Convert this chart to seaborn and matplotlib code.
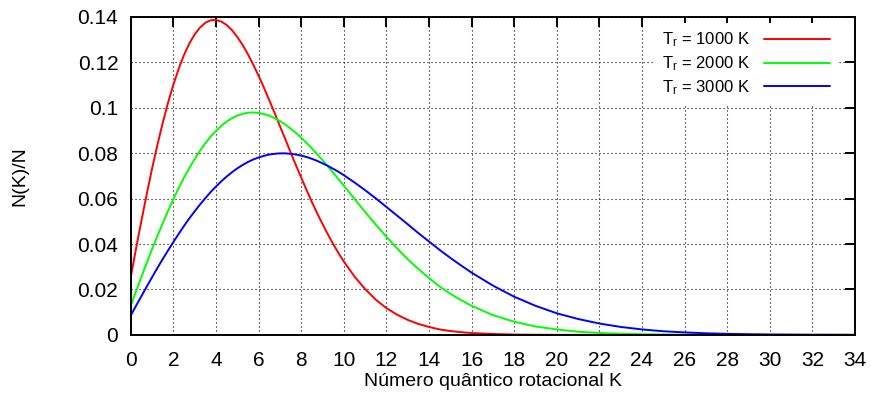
import matplotlib
matplotlib.use("Agg")
import matplotlib.pyplot as plt
import seaborn as sns
import pandas as pd
from matplotlib.ticker import FuncFormatter, MultipleLocator

# Rotational quantum number K (sampled positions)
K = [0, 0.25, 0.5, 0.75, 1, 1.25, 1.5, 1.75, 2, 2.25, 2.5, 2.75, 3, 3.25, 3.5, 3.75,
     4, 4.25, 4.5, 4.75, 5, 5.25, 5.5, 5.75, 6, 6.25, 6.5, 6.75, 7, 7.25, 7.5, 7.75,
     8, 8.25, 8.5, 8.75, 9, 9.25, 9.5, 9.75, 10,
     10.5, 11, 11.5, 12, 12.5, 13, 13.5, 14, 14.5, 15, 15.5, 16,
     17, 18, 19, 20, 21, 22, 23, 24, 25, 26, 27, 28, 29, 30, 31, 32, 33, 34]

# N(K)/N
t1000 = [0.0257, 0.0382, 0.0504, 0.0621, 0.0733, 0.0837, 0.0934, 0.1023, 0.1102,
         0.1172, 0.1233, 0.1283, 0.1323, 0.1353, 0.1374, 0.1385, 0.1386, 0.1379,
         0.1364, 0.1341, 0.1311, 0.1276, 0.1235, 0.1189, 0.1140, 0.1088, 0.1033,
         0.0977, 0.0919, 0.0862, 0.0804, 0.0747, 0.0692, 0.0638, 0.0585, 0.0535,
         0.0488, 0.0443, 0.0400, 0.0360, 0.0323,
         0.0257, 0.0202, 0.0155, 0.0118, 0.0089, 0.0066, 0.0048, 0.0035, 0.0024,
         0.0017, 0.0012, 0.0008,
         0.0004, 0.00015, 0.00006, 0.00002, 0.00001, 0, 0, 0, 0, 0, 0, 0, 0, 0, 0, 0, 0, 0]
t2000 = [0.0129, 0.0193, 0.0256, 0.0318, 0.0378, 0.0436, 0.0492, 0.0546, 0.0598,
         0.0647, 0.0693, 0.0735, 0.0775, 0.0811, 0.0844, 0.0873, 0.0898, 0.0920,
         0.0939, 0.0954, 0.0965, 0.0973, 0.0978, 0.0979, 0.0977, 0.0972, 0.0965,
         0.0954, 0.0941, 0.0926, 0.0908, 0.0889, 0.0868, 0.0845, 0.0821, 0.0795,
         0.0769, 0.0742, 0.0714, 0.0685, 0.0657,
         0.0599, 0.0541, 0.0485, 0.0432, 0.0381, 0.0333, 0.0290, 0.0250, 0.0213,
         0.0181, 0.0153, 0.0128,
         0.0087, 0.0058, 0.0037, 0.0024, 0.0014, 0.00085, 0.0005, 0.00028, 0.00015,
         0.00008, 0.00004, 0.00002, 0.00001, 0, 0, 0, 0, 0]
t3000 = [0.0086, 0.0129, 0.0171, 0.0213, 0.0254, 0.0295, 0.0334, 0.0372, 0.0409,
         0.0445, 0.0480, 0.0513, 0.0544, 0.0574, 0.0602, 0.0629, 0.0653, 0.0676,
         0.0697, 0.0716, 0.0733, 0.0748, 0.0761, 0.0772, 0.0781, 0.0788, 0.0794,
         0.0797, 0.0799, 0.0799, 0.0797, 0.0794, 0.0789, 0.0783, 0.0775, 0.0766,
         0.0755, 0.0744, 0.0731, 0.0718, 0.0703,
         0.0671, 0.0637, 0.0601, 0.0563, 0.0525, 0.0487, 0.0448, 0.0411, 0.0374,
         0.0339, 0.0306, 0.0274,
         0.0217, 0.0168, 0.0128, 0.0095, 0.0070, 0.0050, 0.0035, 0.0024, 0.0016,
         0.0011, 0.0007, 0.00046, 0.00029, 0.00018, 0.00011, 0.00006, 0.00004, 0.00002]

labels = [r"T$_\mathrm{r}$ = 1000 K", r"T$_\mathrm{r}$ = 2000 K", r"T$_\mathrm{r}$ = 3000 K"]
colors = ["#ff0000", "#00ff00", "#0000ff"]

df = pd.concat([
    pd.DataFrame({"K": K, "N": vals, "serie": lab})
    for vals, lab in zip([t1000, t2000, t3000], labels)
], ignore_index=True)

sns.set_theme(style="white")
plt.rcParams["font.family"] = ["Liberation Sans", "DejaVu Sans"]
plt.rcParams["mathtext.fontset"] = "custom"
plt.rcParams["mathtext.rm"] = "Liberation Sans"
plt.rcParams["mathtext.it"] = "Liberation Sans:italic"

fig = plt.figure(figsize=(8.71, 4.08), dpi=100)
fig.patch.set_facecolor("white")
ax = fig.add_axes([0.1502, 0.1792, 0.9816 - 0.1502, 0.9588 - 0.1792])
ax.set_facecolor("white")

sns.lineplot(data=df, x="K", y="N", hue="serie", hue_order=labels,
             palette=dict(zip(labels, colors)), errorbar=None, sort=False,
             linewidth=1.4, legend=False, ax=ax)

ax.set_xlim(0, 34)
ax.set_ylim(0, 0.14)
ax.xaxis.set_major_locator(MultipleLocator(2))
ax.yaxis.set_major_locator(MultipleLocator(0.02))
fmt = FuncFormatter(lambda v, p: f"{round(v, 4):g}")
ax.xaxis.set_major_formatter(fmt)
ax.yaxis.set_major_formatter(fmt)

ax.set_axisbelow(True)
ax.grid(True, color="black", linestyle=(0, (1, 2.6)), linewidth=0.8)
for s in ax.spines.values():
    s.set_visible(True)
    s.set_color("black")
    s.set_linewidth(1.4)
ax.tick_params(direction="in", length=7, width=1.4, top=True, right=True,
               labelsize=15, pad=9, colors="black")
ax.tick_params(axis="x", pad=11.5)

ax.set_xlabel("Número quântico rotacional K", fontsize=14, color="black")
ax.set_ylabel("N(K)/N", fontsize=14, color="black")
ax.xaxis.set_label_coords(0.5, -0.145)
ax.yaxis.set_label_coords(-0.153, 0.5)
ax.xaxis.label.set_va("center")
ax.yaxis.label.set_va("center")

leg = ax.legend(ax.get_lines()[:3], labels, loc="upper right",
                bbox_to_anchor=(0.9765, 0.98), borderaxespad=0,
                frameon=True, fancybox=False, edgecolor="none", facecolor="white",
                framealpha=1, markerfirst=False, handlelength=4.0,
                handletextpad=0.85, borderpad=0.45, labelspacing=0.3, fontsize=12)
for t in leg.get_texts():
    t.set_color("black")

fig.savefig("out.png", dpi=100, facecolor="white")
